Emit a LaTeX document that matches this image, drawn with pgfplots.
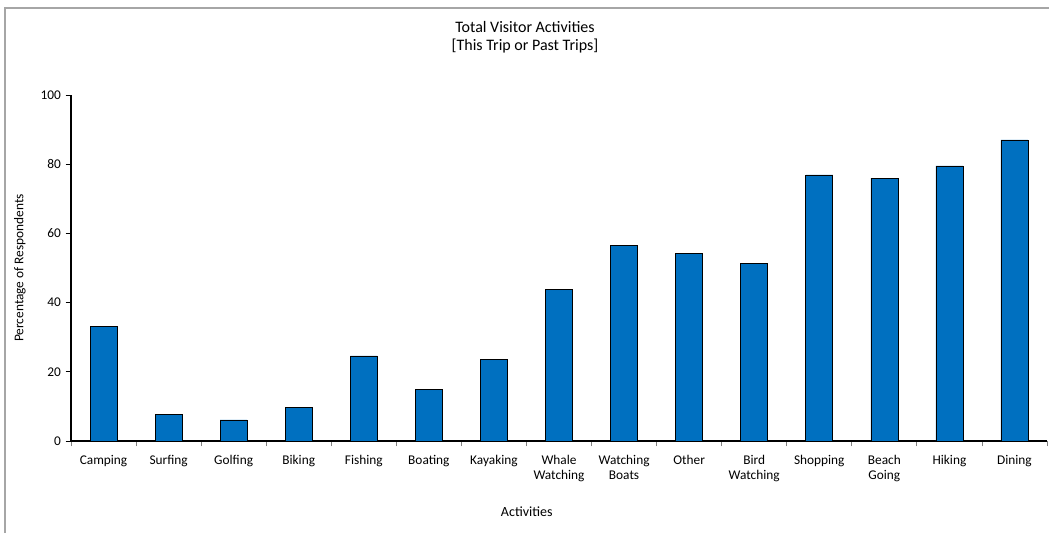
\documentclass[border=0pt]{standalone}
\usepackage{pgfplots}
\pgfplotsset{compat=1.18}
\usepackage{fontspec}
\setmainfont{Carlito}
\definecolor{barblue}{RGB}{0,112,192}
\begin{document}
\begin{tikzpicture}[x=1pt,y=1pt]
\useasboundingbox (-53.25,-69) rectangle (733.5,330.75);
\draw[gray!70,line width=1.2pt] (-49.5,-69) -- (-49.5,324.75) -- (733.5,324.75);
\begin{axis}[
  at={(0,0)}, anchor=south west,
  scale only axis, width=732pt, height=259.5pt,
  xmin=-0.5, xmax=14.5, ymin=0, ymax=100,
  axis lines=left, axis line style={-, line width=0.8pt},
  ytick={0,20,...,100},
  xtick={0,...,14},
  xticklabels={Camping,Surfing,Golfing,Biking,Fishing,Boating,Kayaking,Whale\\Watching,Watching\\Boats,Other,Bird\\Watching,Shopping,Beach\\Going,Hiking,Dining},
  minor xtick={-0.5,0.5,...,14.5},
  major x tick style={draw=none},
  minor x tick style={gray, line width=0.6pt},
  y tick style={black, line width=0.6pt},
  tick align=outside,
  minor tick length=4pt, major tick length=4pt,
  xticklabel style={align=center, font=\fontsize{10}{11.5}\selectfont, yshift=-3pt},
  yticklabel style={font=\fontsize{10}{11}\selectfont},
  /pgf/number format/assume math mode=true,
  ylabel={Percentage of Respondents},
  ylabel style={font=\fontsize{10}{11}\selectfont, at={(axis description cs:-0.0523,0.5)}, anchor=center},
  xlabel={Activities},
  xlabel style={font=\fontsize{10.5}{11}\selectfont, at={(axis description cs:0.467,-0.205)}, anchor=center},
  clip=false,
]
\addplot[ybar, bar width=20.25pt, fill=barblue, draw=black, line width=0.5pt] coordinates {
(0,33.2) (1,7.8) (2,6.1) (3,9.8) (4,24.6) (5,15.0) (6,23.7) (7,43.9) (8,56.6) (9,54.3) (10,51.4) (11,76.9) (12,76.0) (13,79.5) (14,87.0)};
\end{axis}
\node[align=center, font=\fontsize{12}{13.5}\selectfont] at (340.5,302.5) {Total Visitor Activities\\{}[This Trip or Past Trips]};
\end{tikzpicture}
\end{document}
